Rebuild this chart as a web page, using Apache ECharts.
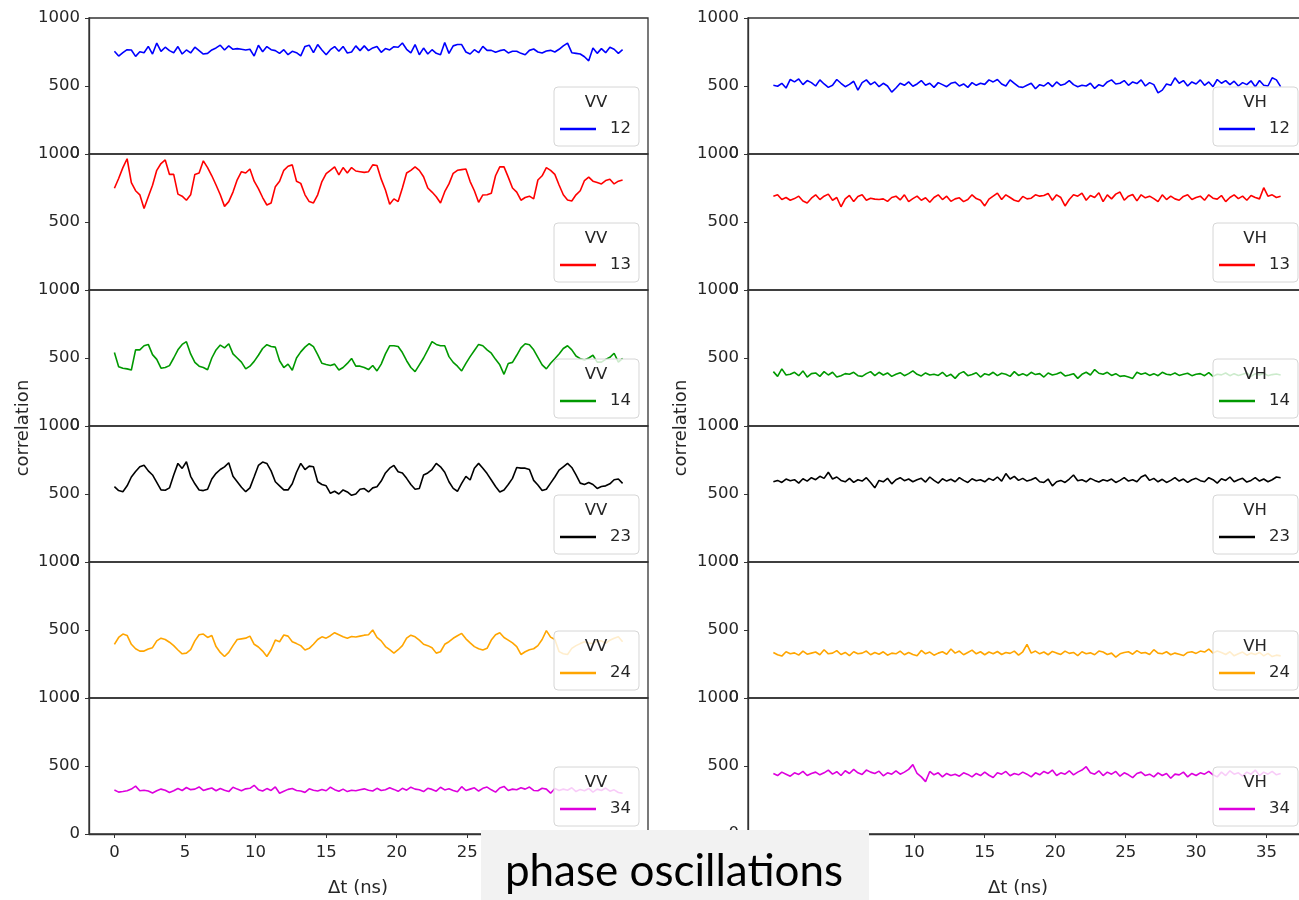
<!DOCTYPE html>
<html><head><meta charset="utf-8">
<script src="https://cdn.jsdelivr.net/npm/echarts@6/dist/echarts.min.js"></script>
<style>html,body{margin:0;padding:0;background:#fff}#c{width:1299px;height:900px}</style>
</head><body><div id="c"></div>
<script>
// ---- data ----
const dt = 0.3; // ns between samples
const pairNames = ['12', '13', '14', '23', '24', '34'];
const polNames = ['VV', 'VH'];
const pairColors = ['#0000ff', '#ff0000', '#009900', '#000000', '#ffa500', '#dd00dd'];
const xTicks = [0, 5, 10, 15, 20, 25, 30, 35];
const yTicks = [0, 500, 1000];

const vv12 = [755,720,745,767,765,718,752,745,791,735,
816,755,785,760,745,790,735,765,743,785,
760,735,740,765,780,800,765,795,770,775,
770,765,770,720,800,752,790,767,760,740,
767,730,755,745,722,791,800,745,805,765,
730,767,790,755,791,743,750,795,760,795,
760,780,791,748,775,765,789,785,816,770,
743,805,730,779,735,767,740,730,820,740,
795,805,805,750,735,767,745,791,762,762,
748,760,767,743,755,755,740,730,762,772,
750,743,757,762,750,770,795,815,745,740,
735,715,685,780,740,775,745,785,770,740,
767];
const vv13 = [748,820,900,965,790,730,700,600,686,770,
880,930,956,850,850,705,690,660,700,850,
860,950,900,840,772,700,615,650,720,810,
870,860,890,800,745,680,625,640,760,800,
880,910,920,800,784,700,650,640,700,797,
855,880,905,846,900,860,900,875,870,865,
870,920,915,815,735,630,670,650,750,860,
880,905,880,833,750,720,686,640,723,780,
858,880,885,890,797,730,645,699,700,711,
840,905,905,830,750,720,660,680,690,670,
809,840,900,880,850,772,700,662,655,700,
730,805,830,800,790,780,805,815,780,800,
809];
const vv14 = [540,436,425,420,412,560,560,590,600,525,
490,425,430,444,500,560,600,620,530,468,
440,430,414,500,559,595,575,605,530,500,
470,420,440,475,520,570,598,585,580,480,
430,455,410,500,545,580,605,584,525,461,
452,445,455,412,430,460,497,440,440,430,
415,445,405,455,530,590,590,584,540,480,
430,400,450,500,559,620,600,590,590,510,
468,440,405,460,510,555,600,590,560,535,
490,450,380,460,468,520,575,605,598,560,
505,450,420,461,495,530,570,590,560,515,
495,485,500,520,470,470,490,505,535,470,
497];
const vv23 = [554,525,517,560,625,665,700,712,670,640,
585,530,528,545,640,725,688,737,630,575,
529,525,535,610,652,680,700,730,630,590,
550,517,545,627,710,735,725,670,590,560,
530,530,575,660,725,680,705,700,590,570,
560,505,520,500,530,515,490,500,535,540,
515,545,554,595,655,690,710,664,655,615,
570,535,540,640,655,680,725,700,660,590,
541,520,578,630,603,690,725,690,650,603,
555,515,530,570,615,695,690,690,680,600,
566,525,535,580,625,675,700,725,695,640,
580,570,585,570,541,555,560,575,605,610,
578];
const vv24 = [394,445,470,460,395,362,345,345,360,370,
420,440,430,410,385,353,325,330,355,420,
465,470,445,460,378,335,305,335,385,430,
435,440,455,395,375,345,305,355,426,414,
463,455,414,400,385,353,365,395,430,450,
440,458,480,465,450,440,452,448,455,462,
465,500,445,420,378,355,330,355,385,440,
462,450,425,395,385,370,330,340,395,414,
439,458,475,435,405,378,362,353,365,426,
465,480,445,426,405,378,320,340,355,362,
385,430,495,448,430,341,325,320,365,385,
400,414,405,400,420,420,402,425,440,450,
414];
const vv34 = [323,308,312,318,330,352,318,322,316,302,
318,330,322,305,318,334,320,342,326,330,
346,320,330,338,318,335,322,312,344,330,
318,332,336,358,326,316,334,320,346,300,
314,328,334,320,316,306,332,322,316,328,
318,344,326,314,330,312,322,318,326,332,
322,316,336,320,326,340,328,314,336,322,
344,330,325,312,336,328,315,344,324,332,
320,310,348,320,330,340,316,336,345,325,
308,338,350,320,330,325,340,330,345,320,
318,336,330,300,335,320,330,322,340,312,
328,318,335,308,330,320,338,315,325,305,
300];

const vh12 = [505,498,520,485,548,530,552,510,540,525,
500,545,515,490,505,548,520,495,512,535,
470,525,545,510,530,495,520,500,455,485,
520,505,530,498,515,540,505,520,490,525,
510,495,520,528,500,515,490,525,505,520,
512,545,530,548,515,500,545,520,495,490,
505,520,480,510,500,525,495,530,505,515,
540,510,495,505,500,520,482,510,498,530,
545,515,520,540,505,530,518,545,500,525,
510,450,470,515,505,560,520,540,500,530,
515,545,505,530,495,548,520,540,510,535,
500,525,510,538,495,540,505,500,560,545,
495];
const vh13 = [690,700,665,680,660,672,690,655,640,675,
700,665,690,705,660,680,612,670,695,650,
688,700,660,675,668,665,670,652,680,690,
662,700,650,672,690,660,678,645,680,700,
665,690,652,670,678,650,665,700,672,660,
618,668,690,712,665,700,680,660,650,688,
670,675,700,690,695,710,660,700,680,618,
665,700,690,712,660,695,680,715,650,700,
670,705,720,660,690,702,655,700,678,690,
672,650,700,665,690,670,660,688,700,665,
680,690,660,700,675,668,695,650,680,700,
672,690,660,695,680,670,752,690,700,680,
690];
const vh14 = [400,365,420,375,380,395,370,405,360,385,
390,365,400,375,395,360,370,385,380,395,
370,365,385,400,370,395,375,390,365,380,
392,370,385,405,380,368,390,375,380,372,
395,365,380,350,385,400,370,378,392,360,
385,375,395,370,388,380,365,400,372,385,
370,395,378,385,360,390,375,382,395,368,
375,385,350,380,395,375,415,388,380,395,
372,385,365,370,360,350,395,380,390,372,
385,370,395,380,376,390,372,380,388,370,
380,385,370,392,365,380,376,390,370,385,
372,380,390,365,385,375,388,370,378,382,
375];
const vh23 = [590,600,585,610,598,605,580,612,595,620,
605,630,615,660,610,625,600,590,615,585,
605,595,620,585,545,600,590,615,575,605,
620,598,610,590,605,615,588,625,600,580,
612,595,608,590,620,600,585,612,598,605,
590,615,600,625,595,650,610,630,600,615,
595,605,620,590,585,610,560,590,600,585,
610,640,598,605,590,615,600,588,605,595,
610,585,600,620,595,605,590,625,640,600,
615,590,608,585,600,620,595,610,585,605,
615,598,590,620,605,580,612,600,625,590,
605,615,588,600,620,595,610,590,605,625,
620];
const vh24 = [335,318,308,340,325,332,315,345,322,330,
338,318,355,325,330,348,320,335,312,340,
325,330,345,318,335,322,340,315,330,325,
345,318,335,320,310,350,325,338,315,330,
340,322,360,330,345,318,335,352,325,340,
318,338,325,342,320,335,328,345,315,340,
395,330,345,325,338,318,342,330,320,345,
328,335,312,340,325,332,318,345,338,320,
330,300,325,335,340,322,348,330,335,320,
355,330,325,340,318,330,322,312,335,340,
328,345,338,360,330,345,335,320,340,310,
325,338,315,330,320,335,310,328,305,315,
310];
const vh34 = [445,430,455,440,425,450,438,460,430,445,
455,435,450,470,440,458,430,465,445,475,
450,438,470,455,445,462,428,450,440,465,
440,455,475,510,445,420,385,460,435,450,
420,445,430,440,425,450,438,420,445,430,
455,432,415,450,440,460,428,445,435,455,
440,420,450,435,460,445,470,430,450,440,
465,435,455,470,495,450,440,465,430,455,
440,460,425,450,435,415,445,455,430,440,
420,450,430,445,410,440,435,455,420,445,
430,450,440,460,435,420,455,430,465,440,
450,425,455,440,470,430,455,440,460,435,
445];

const columns = [
  [vv12, vv13, vv14, vv23, vv24, vv34],
  [vh12, vh13, vh14, vh23, vh24, vh34]
];

// ---- layout ----
const colLeft = [89, 748];
const colWidth = [559, 558];
const top0 = 18, panelH = 136;
const tickFont = 'DejaVu Sans';
const ink = '#262626';

const grids = [], xAxes = [], yAxes = [], series = [], legends = [], graphics = [];
let gi = 0;
for (let c = 0; c < 2; c++) {
  for (let p = 0; p < 6; p++) {
    const T = top0 + p * panelH;
    const isBottom = p === 5;
    grids.push({ left: colLeft[c], top: T, width: colWidth[c], height: panelH,
      show: true, borderColor: '#333', borderWidth: 1.3, backgroundColor: 'transparent',
      outerBoundsMode: 'none', containLabel: false });
    xAxes.push({ type: 'value', gridIndex: gi, min: -1.8, max: 37.8,
      splitLine: { show: false },
      axisLine: { show: isBottom, onZero: false, lineStyle: { color: '#333', width: 1.3 } },
      axisTick: { show: isBottom, length: 4, customValues: xTicks, lineStyle: { color: '#333' } },
      axisLabel: { show: isBottom, customValues: xTicks, fontSize: 16.5, fontFamily: tickFont, color: ink, margin: 10 }
    });
    yAxes.push({ type: 'value', gridIndex: gi, min: 0, max: 1000, interval: 500,
      splitLine: { show: false },
      axisLine: { show: true, onZero: false, lineStyle: { color: '#333', width: 1.3 } },
      axisTick: { show: true, length: 4, lineStyle: { color: '#333' } },
      axisLabel: { fontSize: 16.5, fontFamily: tickFont, color: ink, margin: 9,
        showMinLabel: true, showMaxLabel: true, formatter: v => String(v) }
    });
    const vals = columns[c][p];
    const name = polNames[c] + ' ' + pairNames[p];
    series.push({ type: 'line', name: name, xAxisIndex: gi, yAxisIndex: gi,
      data: vals.map((v, i) => [+(i * dt).toFixed(2), v]),
      showSymbol: false, symbol: 'none', color: pairColors[p],
      lineStyle: { width: 1.6, color: pairColors[p] }, z: 2, animation: false });
    const boxX = colLeft[c] + 465;
    legends.push({ data: [name], left: boxX, top: T + 69, orient: 'horizontal',
      padding: [33, 8, 8, 6], itemWidth: 36, itemHeight: 2.5, icon: 'rect',
      formatter: n => n.split(' ')[1], selectedMode: false,
      textStyle: { fontSize: 16.5, fontFamily: tickFont, color: ink, lineHeight: 18, padding: [0, 0, 0, 9] },
      backgroundColor: 'rgba(255,255,255,0.8)', borderColor: '#d6d6d6', borderWidth: 1, borderRadius: 4, z: 6 });
    graphics.push({ type: 'text', x: boxX + 42, y: T + 85, z: 100,
      style: { text: polNames[c], fontSize: 16.5, fontFamily: tickFont, fill: ink, textAlign: 'center', textVerticalAlign: 'middle' } });
    gi++;
  }
}

// axis titles
[23, 681].forEach(x => graphics.push({ type: 'text', x: x, y: 428, rotation: Math.PI / 2, z: 100,
  style: { text: 'correlation', fontSize: 18, fontFamily: tickFont, fill: ink, textAlign: 'center', textVerticalAlign: 'middle' } }));
[358, 1018].forEach(x => graphics.push({ type: 'text', x: x, y: 888, z: 100,
  style: { text: 'Δt (ns)', fontSize: 18, fontFamily: tickFont, fill: ink, textAlign: 'center', textVerticalAlign: 'middle' } }));

// caption box
graphics.push({ type: 'rect', shape: { x: 481, y: 830, width: 388, height: 70 }, z: 200, style: { fill: '#f2f2f2' } });
graphics.push({ type: 'text', x: 674, y: 872, z: 201,
  style: { text: 'phase oscillations', fontSize: 44, fontFamily: 'Lato', fill: '#000', textAlign: 'center', textVerticalAlign: 'middle' } });

const chart = echarts.init(document.getElementById('c'), null, { renderer: 'canvas' });
chart.setOption({
  animation: false,
  backgroundColor: '#fff',
  grid: grids, xAxis: xAxes, yAxis: yAxes, series: series, legend: legends,
  graphic: graphics
});
</script></body></html>
